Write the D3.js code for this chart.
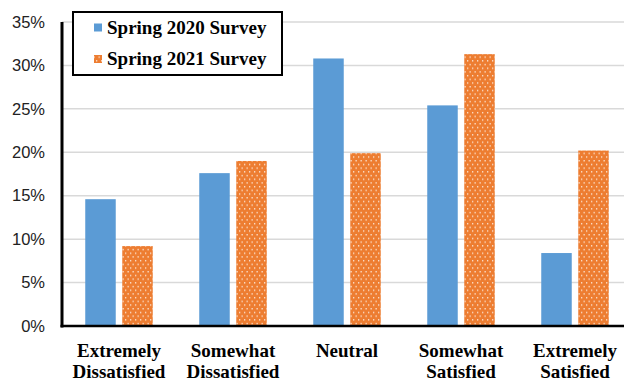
<!DOCTYPE html>
<html><head><meta charset="utf-8">
<script src="https://cdn.jsdelivr.net/npm/d3@7"></script>
<style>html,body{margin:0;padding:0;background:#fff;overflow:hidden}</style>
</head><body>
<svg id="c" width="624" height="380"></svg>
<script>
const categories = [["Extremely","Dissatisfied"],["Somewhat","Dissatisfied"],["Neutral"],["Somewhat","Satisfied"],["Extremely","Satisfied"]];
const seriesNames = ["Spring 2020 Survey","Spring 2021 Survey"];
const spring2020 = [14.6, 17.6, 30.8, 25.4, 8.4];
const spring2021 = [9.2, 19.0, 19.9, 31.3, 20.2];
const yTicks = [0,5,10,15,20,25,30,35];

const svg = d3.select("#c");
const x0 = 62, x1 = 632, yTop = 22, yBot = 326;
const catKeys = categories.map(c => c.join(" "));
const x = d3.scaleBand().domain(catKeys).range([x0, x1]).paddingInner(0).paddingOuter(0);
const y = d3.scaleLinear().domain([0,35]).range([yBot, yTop]);
const groupW = 67.5;
const xs = d3.scaleBand().domain(seriesNames).range([-groupW/2, groupW/2]).paddingInner(0.176);

const defs = svg.append("defs");
const pat = defs.append("pattern").attr("id","dots").attr("patternUnits","userSpaceOnUse")
  .attr("width",5).attr("height",7.4);
pat.append("rect").attr("width",5).attr("height",7.4).attr("fill","#ED7D31");
pat.append("rect").attr("x",1).attr("y",1).attr("width",1.3).attr("height",1.3).attr("fill","#fde9da");
pat.append("rect").attr("x",3.5).attr("y",4.7).attr("width",1.3).attr("height",1.3).attr("fill","#fde9da");

// gridlines
svg.append("g").selectAll("line").data(yTicks.filter(t=>t>0)).join("line")
  .attr("x1",x0).attr("x2",624).attr("y1",d=>y(d)).attr("y2",d=>y(d))
  .attr("stroke","#d9d9d9").attr("stroke-width",1.5);

// y labels
svg.append("g").selectAll("text").data(yTicks).join("text")
  .attr("x",45).attr("y",d=>y(d)).attr("dy","0.35em").attr("text-anchor","end")
  .attr("font-family","'Liberation Sans', Arial, sans-serif").attr("font-size",16.5)
  .attr("fill","#222").text(d=>d+"%");

// bars
const data = catKeys.map((k,i)=>({k, vals:[spring2020[i], spring2021[i]]}));
const fills = ["#5B9BD5","url(#dots)"];
const g = svg.append("g").selectAll("g").data(data).join("g")
  .attr("transform",d=>`translate(${x(d.k)+x.bandwidth()/2},0)`);
g.selectAll("rect").data(d=>d.vals.map((v,j)=>({v,j}))).join("rect")
  .attr("x",d=>xs(seriesNames[d.j])).attr("width",xs.bandwidth())
  .attr("y",d=>y(d.v)).attr("height",d=>yBot-y(d.v))
  .attr("fill",d=>fills[d.j]);

// axes lines
svg.append("line").attr("x1",x0).attr("x2",x0).attr("y1",yTop).attr("y2",yBot+1.5)
  .attr("stroke","#000").attr("stroke-width",3);
svg.append("line").attr("x1",x0-1.5).attr("x2",624).attr("y1",yBot).attr("y2",yBot)
  .attr("stroke","#000").attr("stroke-width",2.6);

// x labels
const xl = svg.append("g").selectAll("text").data(categories).join("text")
  .attr("text-anchor","middle").attr("font-family","'Liberation Serif', 'Times New Roman', serif")
  .attr("font-weight","bold").attr("font-size",19).attr("fill","#000")
  .attr("transform",(d,i)=>`translate(${x(catKeys[i])+x.bandwidth()/2},0)`);
xl.selectAll("tspan").data(d=>d).join("tspan")
  .attr("x",0).attr("y",(d,i)=>357+i*20.5).text(d=>d);

// legend
const lg = svg.append("g");
lg.append("rect").attr("x",73).attr("y",12).attr("width",209).attr("height",63)
  .attr("fill","#fff").attr("stroke","#000").attr("stroke-width",2);
const legendFills = ["#5B9BD5","url(#dots)"];
seriesNames.forEach((s,i)=>{
  const cy = 27.5 + i*31.5;
  lg.append("rect").attr("x",94).attr("y",cy-4).attr("width",8).attr("height",8).attr("fill",legendFills[i]);
  lg.append("text").attr("x",107).attr("y",cy+6).attr("font-family","'Liberation Serif', 'Times New Roman', serif")
    .attr("font-weight","bold").attr("font-size",19).attr("fill","#000").text(s);
});
</script>
</body></html>
